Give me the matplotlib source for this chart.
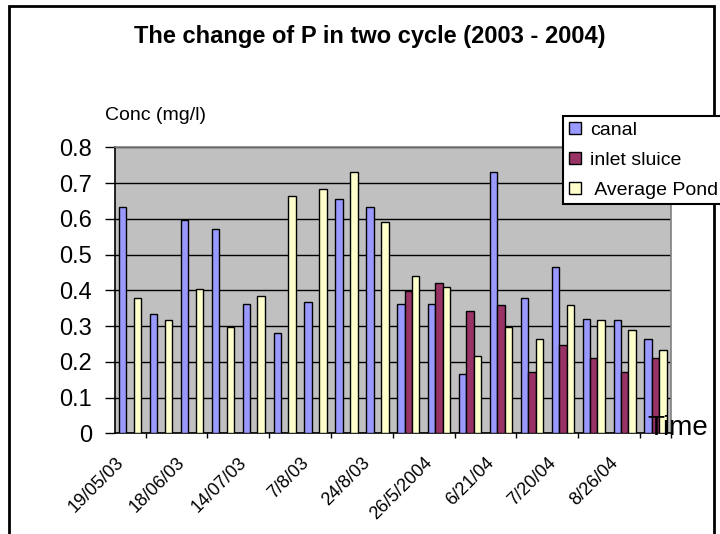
import numpy as np
import matplotlib
matplotlib.use('Agg')
import matplotlib.pyplot as plt
from matplotlib.patches import Rectangle
from matplotlib.transforms import ScaledTranslation

plt.rcParams['font.family'] = ['Liberation Sans', 'DejaVu Sans']

# values, 18 sampling dates
canal = [0.633, 0.333, 0.598, 0.571, 0.363, 0.281, 0.367, 0.654, 0.633,
         0.363, 0.363, 0.165, 0.731, 0.379, 0.466, 0.321, 0.316, 0.264]
inlet_sluice = [np.nan] * 9 + [0.398, 0.420, 0.342, 0.359, 0.171, 0.248, 0.212, 0.171, 0.212]
average_pond = [0.379, 0.316, 0.405, 0.296, 0.384, 0.664, 0.684, 0.731, 0.591,
                0.441, 0.410, 0.217, 0.296, 0.264, 0.358, 0.316, 0.290, 0.233]
date_labels = ['19/05/03', '18/06/03', '14/07/03', '7/8/03', '24/8/03',
               '26/5/2004', '6/21/04', '7/20/04', '8/26/04']
series_names = ['canal', 'inlet sluice', ' Average Pond']
colors = ['#9999FF', '#993366', '#FFFFCC']
yticks = [0, 0.1, 0.2, 0.3, 0.4, 0.5, 0.6, 0.7, 0.8]

W, H = 720, 534
fig = plt.figure(figsize=(W / 100, H / 100), dpi=100)
ax = fig.add_axes([114.7 / W, 1 - 433.3 / H, (671 - 114.7) / W, (433.3 - 147.3) / H])
ax.set_facecolor('#C0C0C0')

x = np.arange(len(canal))
bw = 0.24
handles = []
for k, (vals, col) in enumerate(zip([canal, inlet_sluice, average_pond], colors)):
    b = ax.bar(x + (k - 1) * bw, vals, width=bw, color=col, edgecolor='black',
               linewidth=1.0, zorder=3)
    handles.append(b)

ax.set_yticks(yticks)
ax.set_yticklabels(['%g' % v for v in yticks], fontsize=17)
ax.yaxis.grid(True, color='black', linewidth=1.0, zorder=1)
ax.set_axisbelow(True)
ax.tick_params(axis='y', length=7, width=1, pad=9.5)

# category boundaries get tick marks, every 2nd date gets a label
ax.set_xticks(np.arange(0, len(canal) + 1) - 0.5, minor=True)
ax.set_xticks(np.arange(0, len(canal), 2) - 0.5)
ax.set_xticklabels(date_labels, rotation=45, ha='right', va='top',
                   rotation_mode='anchor', fontsize=13)
shift = ScaledTranslation(-8 / 100, 0, fig.dpi_scale_trans)
for lab in ax.get_xticklabels():
    lab.set_transform(lab.get_transform() + shift)
ax.tick_params(axis='x', which='major', length=0, pad=15)
ax.tick_params(axis='x', which='minor', length=3.6, width=1)
ax.set_xlim(-0.5, len(canal) - 0.5)
ax.set_ylim(0, 0.8)

for side in ['top', 'right']:
    ax.spines[side].set_color('#808080')
    ax.spines[side].set_linewidth(1.2)
for side in ['left', 'bottom']:
    ax.spines[side].set_color('black')
    ax.spines[side].set_linewidth(1.2)

fig.text(370 / W, 1 - 43 / H, 'The change of P in two cycle (2003 - 2004)',
         ha='center', va='baseline', fontsize=17, fontweight='bold')
fig.text(105 / W, 1 - 120 / H, 'Conc (mg/l)', ha='left', va='baseline', fontsize=14)
fig.text(647 / W, 1 - 435 / H, 'Time', ha='left', va='baseline', fontsize=20, zorder=10)

leg = fig.legend(handles, series_names, loc='upper left',
                 bbox_to_anchor=(563 / W, 1 - 116 / H), fontsize=14,
                 frameon=True, fancybox=False, framealpha=1, edgecolor='black',
                 handlelength=0.6, handleheight=0.6, handletextpad=0.5,
                 borderpad=0.3, borderaxespad=0, labelspacing=0.66)
leg.get_frame().set_linewidth(1.5)

# outer chart frame
fig.patches.append(Rectangle((9 / W, -0.1), (714 - 9) / W, 1.1 - 6 / H,
                             transform=fig.transFigure, fill=False,
                             edgecolor='black', linewidth=2.0))

fig.savefig('out.png', dpi=100)
